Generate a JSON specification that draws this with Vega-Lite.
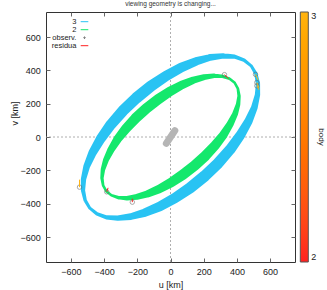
{
  "$schema": "https://vega.github.io/schema/vega-lite/v6.json",
  "width": 249,
  "height": 250,
  "autosize": {"type": "none"},
  "padding": {"left": 46, "top": 12, "right": 32, "bottom": 28},
  "title": {"text": "viewing geometry is changing...", "fontSize": 6.5, "fontWeight": "normal", "font": "Liberation Sans", "color": "#333", "offset": 4, "frame": "group", "anchor": "middle"},
  "datasets": {
    "zero": [{"z": 0}],
    "primary": [{"u": -25, "v": -38}, {"u": 26, "v": 38}],
    "obs": [
      {"kind": "observ.", "body": 2, "u": 325, "v": 374, "um": 350, "vm": 350},
      {"kind": "observ.", "body": 2, "u": -384, "v": -329, "um": -376, "vm": -305},
      {"kind": "observ.", "body": 2, "u": -230, "v": -391, "um": -230, "vm": -370},
      {"kind": "observ.", "body": 3, "u": -548, "v": -301, "um": -548, "vm": -256},
      {"kind": "observ.", "body": 3, "u": 512, "v": 376, "um": 527, "vm": 343},
      {"kind": "observ.", "body": 3, "u": 520, "v": 327, "um": 533, "vm": 295},
      {"kind": "observ.", "body": 3, "u": 520, "v": 307, "um": 533, "vm": 283}
    ],
    "rings": [
      {"series": "3", "t": 0, "u": 486, "v": 427, "thick": 18},
      {"series": "3", "t": 10, "u": 443, "v": 461, "thick": 20},
      {"series": "3", "t": 20, "u": 386, "v": 482, "thick": 25},
      {"series": "3", "t": 30, "u": 318, "v": 487, "thick": 32},
      {"series": "3", "t": 40, "u": 240, "v": 478, "thick": 40},
      {"series": "3", "t": 50, "u": 155, "v": 454, "thick": 50},
      {"series": "3", "t": 60, "u": 65, "v": 417, "thick": 58},
      {"series": "3", "t": 70, "u": -27, "v": 366, "thick": 63},
      {"series": "3", "t": 80, "u": -118, "v": 305, "thick": 67},
      {"series": "3", "t": 90, "u": -206, "v": 234, "thick": 68},
      {"series": "3", "t": 100, "u": -287, "v": 157, "thick": 67},
      {"series": "3", "t": 110, "u": -360, "v": 74, "thick": 63},
      {"series": "3", "t": 120, "u": -421, "v": -11, "thick": 58},
      {"series": "3", "t": 130, "u": -470, "v": -95, "thick": 50},
      {"series": "3", "t": 140, "u": -505, "v": -176, "thick": 40},
      {"series": "3", "t": 150, "u": -524, "v": -253, "thick": 32},
      {"series": "3", "t": 160, "u": -527, "v": -321, "thick": 25},
      {"series": "3", "t": 170, "u": -514, "v": -380, "thick": 20},
      {"series": "3", "t": 180, "u": -486, "v": -427, "thick": 18},
      {"series": "3", "t": 190, "u": -443, "v": -461, "thick": 20},
      {"series": "3", "t": 200, "u": -386, "v": -482, "thick": 25},
      {"series": "3", "t": 210, "u": -318, "v": -487, "thick": 32},
      {"series": "3", "t": 220, "u": -240, "v": -478, "thick": 40},
      {"series": "3", "t": 230, "u": -155, "v": -454, "thick": 50},
      {"series": "3", "t": 240, "u": -65, "v": -417, "thick": 58},
      {"series": "3", "t": 250, "u": 27, "v": -366, "thick": 63},
      {"series": "3", "t": 260, "u": 118, "v": -305, "thick": 67},
      {"series": "3", "t": 270, "u": 206, "v": -234, "thick": 68},
      {"series": "3", "t": 280, "u": 287, "v": -157, "thick": 67},
      {"series": "3", "t": 290, "u": 360, "v": -74, "thick": 63},
      {"series": "3", "t": 300, "u": 421, "v": 11, "thick": 58},
      {"series": "3", "t": 310, "u": 470, "v": 95, "thick": 50},
      {"series": "3", "t": 320, "u": 505, "v": 176, "thick": 40},
      {"series": "3", "t": 330, "u": 524, "v": 253, "thick": 32},
      {"series": "3", "t": 340, "u": 527, "v": 321, "thick": 25},
      {"series": "3", "t": 350, "u": 514, "v": 380, "thick": 20},
      {"series": "3", "t": 360, "u": 486, "v": 427, "thick": 18},
      {"series": "2", "t": 0, "u": 387, "v": 325, "thick": 15},
      {"series": "2", "t": 10, "u": 356, "v": 350, "thick": 16},
      {"series": "2", "t": 20, "u": 314, "v": 364, "thick": 20},
      {"series": "2", "t": 30, "u": 263, "v": 367, "thick": 27},
      {"series": "2", "t": 40, "u": 203, "v": 359, "thick": 35},
      {"series": "2", "t": 50, "u": 138, "v": 341, "thick": 43},
      {"series": "2", "t": 60, "u": 68, "v": 312, "thick": 51},
      {"series": "2", "t": 70, "u": -4, "v": 273, "thick": 58},
      {"series": "2", "t": 80, "u": -75, "v": 226, "thick": 62},
      {"series": "2", "t": 90, "u": -145, "v": 172, "thick": 63},
      {"series": "2", "t": 100, "u": -210, "v": 113, "thick": 62},
      {"series": "2", "t": 110, "u": -268, "v": 51, "thick": 58},
      {"series": "2", "t": 120, "u": -319, "v": -13, "thick": 51},
      {"series": "2", "t": 130, "u": -359, "v": -77, "thick": 43},
      {"series": "2", "t": 140, "u": -389, "v": -138, "thick": 35},
      {"series": "2", "t": 150, "u": -407, "v": -195, "thick": 27},
      {"series": "2", "t": 160, "u": -413, "v": -246, "thick": 20},
      {"series": "2", "t": 170, "u": -406, "v": -290, "thick": 16},
      {"series": "2", "t": 180, "u": -387, "v": -325, "thick": 15},
      {"series": "2", "t": 190, "u": -356, "v": -350, "thick": 16},
      {"series": "2", "t": 200, "u": -314, "v": -364, "thick": 20},
      {"series": "2", "t": 210, "u": -263, "v": -367, "thick": 27},
      {"series": "2", "t": 220, "u": -203, "v": -359, "thick": 35},
      {"series": "2", "t": 230, "u": -138, "v": -341, "thick": 43},
      {"series": "2", "t": 240, "u": -68, "v": -312, "thick": 51},
      {"series": "2", "t": 250, "u": 4, "v": -273, "thick": 58},
      {"series": "2", "t": 260, "u": 75, "v": -226, "thick": 62},
      {"series": "2", "t": 270, "u": 145, "v": -172, "thick": 63},
      {"series": "2", "t": 280, "u": 210, "v": -113, "thick": 62},
      {"series": "2", "t": 290, "u": 268, "v": -51, "thick": 58},
      {"series": "2", "t": 300, "u": 319, "v": 13, "thick": 51},
      {"series": "2", "t": 310, "u": 359, "v": 77, "thick": 43},
      {"series": "2", "t": 320, "u": 389, "v": 138, "thick": 35},
      {"series": "2", "t": 330, "u": 407, "v": 195, "thick": 27},
      {"series": "2", "t": 340, "u": 413, "v": 246, "thick": 20},
      {"series": "2", "t": 350, "u": 406, "v": 290, "thick": 16},
      {"series": "2", "t": 360, "u": 387, "v": 325, "thick": 15}
    ]
  },
  "layer": [
    {
      "data": {"name": "zero"},
      "mark": {"type": "rule", "color": "#9a9a9a", "strokeDash": [2, 2], "strokeWidth": 0.8},
      "encoding": {
        "x": {"field": "z", "type": "quantitative", "scale": {"domain": [-750, 750], "nice": false, "zero": false},
              "axis": {"orient": "top", "values": [-600, -400, -200, 0, 200, 400, 600], "labels": false, "title": null}}
      }
    },
    {
      "data": {"name": "zero"},
      "mark": {"type": "rule", "color": "#9a9a9a", "strokeDash": [2, 2], "strokeWidth": 0.8},
      "encoding": {
        "y": {"field": "z", "type": "quantitative", "scale": {"domain": [-750, 750], "nice": false, "zero": false},
              "axis": {"orient": "right", "values": [-600, -400, -200, 0, 200, 400, 600], "labels": false, "title": null}}
      }
    },
    {
      "data": {"name": "rings"},
      "mark": {"type": "trail"},
      "encoding": {
        "x": {"field": "u", "type": "quantitative", "scale": {"domain": [-750, 750], "nice": false, "zero": false},
              "axis": {"orient": "bottom", "values": [-600, -400, -200, 0, 200, 400, 600], "title": "u [km]", "labelPadding": 9.5, "titleY": 22, "titleBaseline": "middle"}},
        "y": {"field": "v", "type": "quantitative", "scale": {"domain": [-750, 750], "nice": false, "zero": false},
              "axis": {"orient": "left", "values": [-600, -400, -200, 0, 200, 400, 600], "title": "v [km]", "labelPadding": 9.7, "titleX": -32, "titleY": 101, "titleAngle": 270, "titleBaseline": "middle", "titleAlign": "center"}},
        "order": {"field": "t", "type": "quantitative"},
        "fill": {"field": "series", "type": "nominal",
                 "scale": {"domain": ["3", "2"], "range": ["#29c3f3", "#14e86c"]},
                 "legend": null},
        "size": {"field": "thick", "type": "quantitative", "scale": {"domain": [0, 60], "range": [0, 10]}, "legend": null}
      }
    },
    {
      "data": {"name": "primary"},
      "mark": {"type": "line", "color": "#b5b5b5", "strokeWidth": 7, "strokeCap": "round"},
      "encoding": {
        "x": {"field": "u", "type": "quantitative", "axis": null},
        "y": {"field": "v", "type": "quantitative", "axis": null}
      }
    },
    {
      "data": {"name": "obs"},
      "mark": {"type": "point", "filled": false, "color": "#666666", "size": 20, "strokeWidth": 0.8},
      "encoding": {
        "x": {"field": "u", "type": "quantitative", "axis": null},
        "y": {"field": "v", "type": "quantitative", "axis": null}
      }
    },
    {
      "data": {"name": "obs"},
      "mark": {"type": "point", "filled": false, "opacity": 0},
      "encoding": {
        "x": {"field": "u", "type": "quantitative", "axis": null},
        "y": {"field": "v", "type": "quantitative", "axis": null},
        "stroke": {"field": "kind", "type": "nominal",
                   "scale": {"domain": ["3", "2", "observ.", "residua"], "range": ["#29c3f3", "#14e86c", "#555555", "#ff2020"]},
                   "legend": {"orient": "none", "legendX": 1, "legendY": 5.2, "title": null, "padding": 0, "symbolSize": 58, "symbolOpacity": 1, "symbolStrokeWidth": 1, "labelAlign": "right", "labelOffset": -12.6, "symbolOffset": 33, "labelFontSize": 7.5, "labelFont": "Liberation Sans", "labelColor": "#222", "rowPadding": 0}},
        "shape": {"field": "kind", "type": "nominal",
                  "scale": {"domain": ["3", "2", "observ.", "residua"], "range": ["stroke", "stroke", "M-0.18,0A0.18,0.18,0,1,1,0.18,0A0.18,0.18,0,1,1,-0.18,0Z", "stroke"]}}
      }
    },
    {
      "data": {"name": "obs"},
      "mark": {"type": "rule", "strokeWidth": 1},
      "encoding": {
        "x": {"field": "u", "type": "quantitative", "axis": null},
        "y": {"field": "v", "type": "quantitative", "axis": null},
        "x2": {"field": "um"},
        "y2": {"field": "vm"},
        "color": {"field": "body", "type": "quantitative",
                  "scale": {"domain": [2, 3], "range": ["#ff2020", "#ffb30f"]},
                  "legend": {"orient": "none", "legendX": 254.3, "legendY": 0, "direction": "vertical", "padding": 0, "gradientLength": 250, "gradientThickness": 8, "values": [2, 3], "format": "d", "title": "body", "titleOrient": "right", "titleAngle": 270, "titleAnchor": "middle", "titleFontSize": 8, "titleFontWeight": "normal", "titleFont": "Liberation Sans", "titleColor": "#222", "titlePadding": 1, "labelFontSize": 9, "labelFont": "Liberation Sans", "labelColor": "#222", "labelOffset": 3, "labelBaseline": "middle", "gradientStrokeColor": "#555", "gradientStrokeWidth": 1}}
      }
    }
  ],
  "resolve": {"axis": {"x": "independent", "y": "independent"}},
  "config": {
    "view": {"stroke": "#333333", "strokeWidth": 1},
    "font": "Liberation Sans",
    "axis": {"grid": false, "domain": false, "tickColor": "#666666", "tickSize": -4, "labelFontSize": 9, "labelColor": "#222222", "titleFontSize": 9, "titleFontWeight": "normal", "titleColor": "#222222", "labelFont": "Liberation Sans", "titleFont": "Liberation Sans"}
  }
}
